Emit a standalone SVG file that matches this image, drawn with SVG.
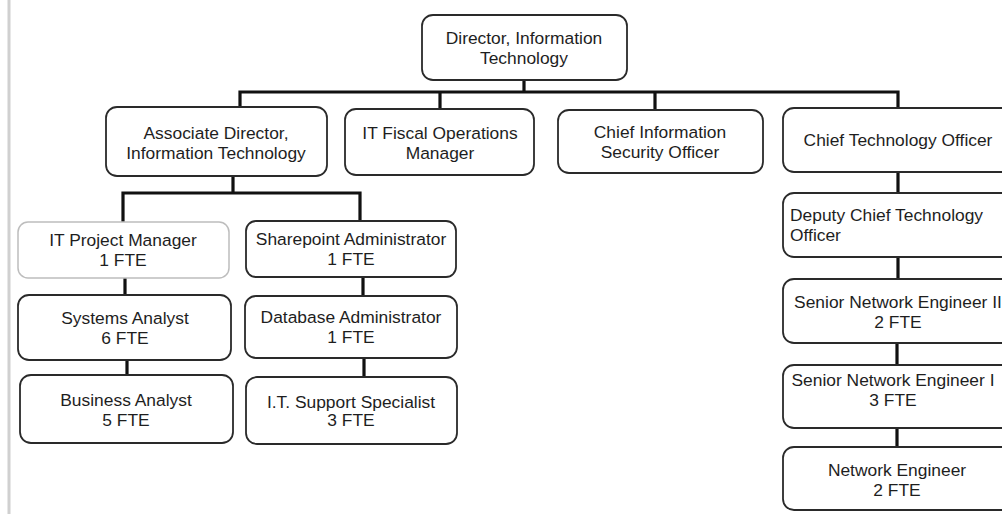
<svg xmlns="http://www.w3.org/2000/svg" width="1002" height="514" viewBox="0 0 1002 514">
<style>
.box{fill:#fff;stroke:#2a2a2a;stroke-width:1.8}
.lite{fill:#fff;stroke:#bdbdbd;stroke-width:1.5}
.t{font-family:"Liberation Sans",Arial,sans-serif;font-size:17.4px;fill:#1e1e1e;text-anchor:middle}
.l{text-anchor:start}
.c{fill:none;stroke:#111;stroke-width:3.2}
</style>
<rect x="0" y="0" width="1002" height="514" fill="#fff"/>
<line x1="9" y1="0" x2="9" y2="514" stroke="#d0d0d0" stroke-width="3"/>
<g id="connectors">
<path class="c" d="M524 80V92M240 107V92H898V108M440 92V109M655 92V110"/>
<path class="c" d="M233 176V193M123 222V193H360V221"/>
<path class="c" d="M125 278V295M127 360V375M363 277V296M364 358V377"/>
<path class="c" d="M898 172V193M898 257V279M897 343V365M897 428V447"/>
</g>
<g id="director"><rect class="box" x="422" y="15" width="205" height="65" rx="11"/><text class="t" x="524" y="44">Director, Information</text><text class="t" x="524" y="64">Technology</text></g>
<g id="assoc"><rect class="box" x="106" y="107" width="221" height="69" rx="11"/><text class="t" x="216" y="139">Associate Director,</text><text class="t" x="216" y="159">Information Technology</text></g>
<g id="fiscal"><rect class="box" x="345" y="109" width="189" height="66" rx="11"/><text class="t" x="440" y="139">IT Fiscal Operations</text><text class="t" x="440" y="159">Manager</text></g>
<g id="ciso"><rect class="box" x="558" y="110" width="205" height="63" rx="11"/><text class="t" x="660" y="138">Chief Information</text><text class="t" x="660" y="158">Security Officer</text></g>
<g id="cto"><rect class="box" x="783" y="108" width="240" height="64" rx="11"/><text class="t" x="898" y="146">Chief Technology Officer</text></g>
<g id="pm"><rect class="lite" x="18" y="222" width="211" height="56" rx="10"/><text class="t" x="123" y="246">IT Project Manager</text><text class="t" x="123" y="266">1 FTE</text></g>
<g id="sa"><rect class="box" x="18" y="295" width="213" height="65" rx="11"/><text class="t" x="125" y="324">Systems Analyst</text><text class="t" x="125" y="344">6 FTE</text></g>
<g id="ba"><rect class="box" x="20" y="375" width="213" height="68" rx="11"/><text class="t" x="126" y="406">Business Analyst</text><text class="t" x="126" y="426">5 FTE</text></g>
<g id="sp"><rect class="box" x="246" y="221" width="210" height="56" rx="10"/><text class="t" x="351" y="245">Sharepoint Administrator</text><text class="t" x="351" y="265">1 FTE</text></g>
<g id="db"><rect class="box" x="245" y="296" width="212" height="62" rx="11"/><text class="t" x="351" y="323">Database Administrator</text><text class="t" x="351" y="343">1 FTE</text></g>
<g id="its"><rect class="box" x="246" y="377" width="211" height="67" rx="11"/><text class="t" x="351" y="408">I.T. Support Specialist</text><text class="t" x="351" y="426">3 FTE</text></g>
<g id="deputy"><rect class="box" x="783" y="193" width="240" height="64" rx="11"/><text class="t l" x="790" y="221">Deputy Chief Technology</text><text class="t l" x="790" y="241">Officer</text></g>
<g id="sne2"><rect class="box" x="783" y="279" width="240" height="64" rx="11"/><text class="t" x="898" y="308">Senior Network Engineer II</text><text class="t" x="898" y="328">2 FTE</text></g>
<g id="sne1"><rect class="box" x="783" y="365" width="240" height="63" rx="11"/><text class="t" x="893" y="386">Senior Network Engineer I</text><text class="t" x="893" y="406">3 FTE</text></g>
<g id="ne"><rect class="box" x="783" y="447" width="240" height="63" rx="11"/><text class="t" x="897" y="476">Network Engineer</text><text class="t" x="897" y="496">2 FTE</text></g>
</svg>
